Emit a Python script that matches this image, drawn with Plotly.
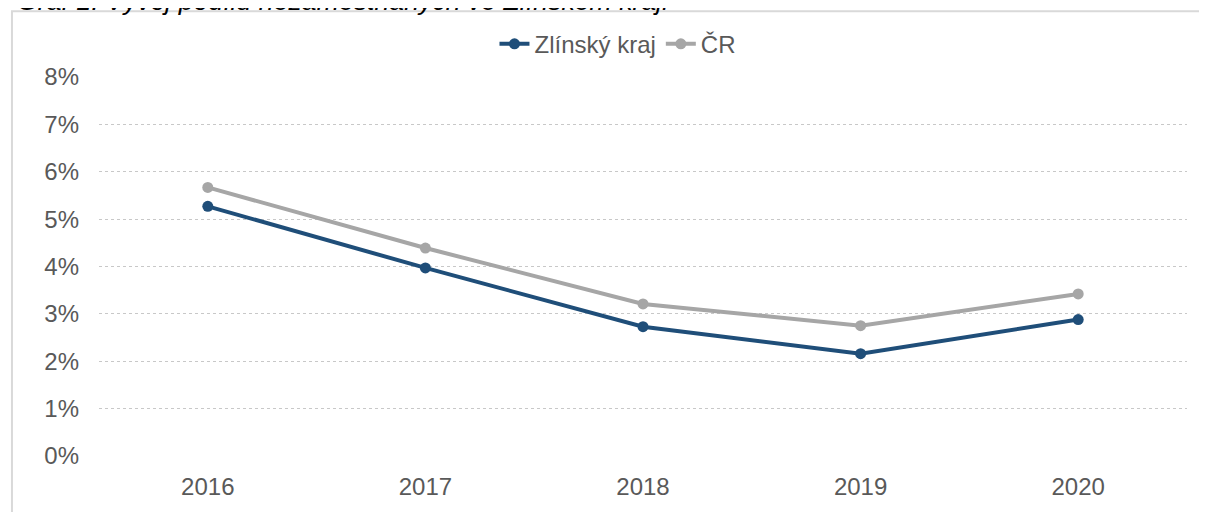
import plotly.graph_objects as go

years = ["2016", "2017", "2018", "2019", "2020"]
zlin = [0.0527, 0.0397, 0.0273, 0.0216, 0.0288]
cr = [0.0567, 0.0439, 0.0321, 0.0275, 0.0342]
y_ticks = [0, 0.01, 0.02, 0.03, 0.04, 0.05, 0.06, 0.07, 0.08]
y_labels = ["0%", "1%", "2%", "3%", "4%", "5%", "6%", "7%", "8%"]
title = "Graf 1: Vývoj podílu nezaměstnaných ve Zlínském kraji"

fig = go.Figure()
fig.add_trace(go.Scatter(x=years, y=zlin, name="Zlínský kraj", mode="lines+markers",
                         line=dict(color="#1f4e79", width=4),
                         marker=dict(size=11, color="#1f4e79")))
fig.add_trace(go.Scatter(x=years, y=cr, name="ČR", mode="lines+markers",
                         line=dict(color="#a6a6a6", width=4),
                         marker=dict(size=11, color="#a6a6a6")))

fig.update_layout(
    width=1199, height=504,
    margin=dict(l=91, r=20, t=69, b=54),
    paper_bgcolor="white", plot_bgcolor="white",
    font=dict(family="Liberation Sans, Arial, sans-serif", size=24, color="#595959"),
    showlegend=True,
    legend=dict(orientation="h", x=0.477, xanchor="center", y=1.0866, yanchor="middle",
                font=dict(size=24, color="#595959"), tracegroupgap=0),
    xaxis=dict(type="category", range=[-0.5, 4.5], showgrid=False, showline=False,
               ticks="", tickfont=dict(size=24, color="#595959"), ticklabelstandoff=14),
    yaxis=dict(range=[0, 0.08], tickvals=y_ticks, ticktext=y_labels, showgrid=True,
               gridcolor="#c8c8c8", griddash="dot", gridwidth=1, zeroline=False,
               showline=False, ticks="", tickfont=dict(size=24, color="#595959"),
               ticklabelstandoff=19),
    shapes=[dict(type="rect", xref="paper", yref="paper", x0=-0.08, x1=1.0175,
                 y0=-0.3, y1=1.1732, line=dict(color="#d9d9d9", width=2),
                 fillcolor="rgba(0,0,0,0)", layer="below")],
    annotations=[dict(text="<i>" + title + "</i>", xref="paper", yref="paper",
                      x=-0.0772, xanchor="left", y=1.1995, yanchor="middle",
                      showarrow=False, font=dict(size=26.7, color="#000000"))],
)

fig.write_html("out.html")
